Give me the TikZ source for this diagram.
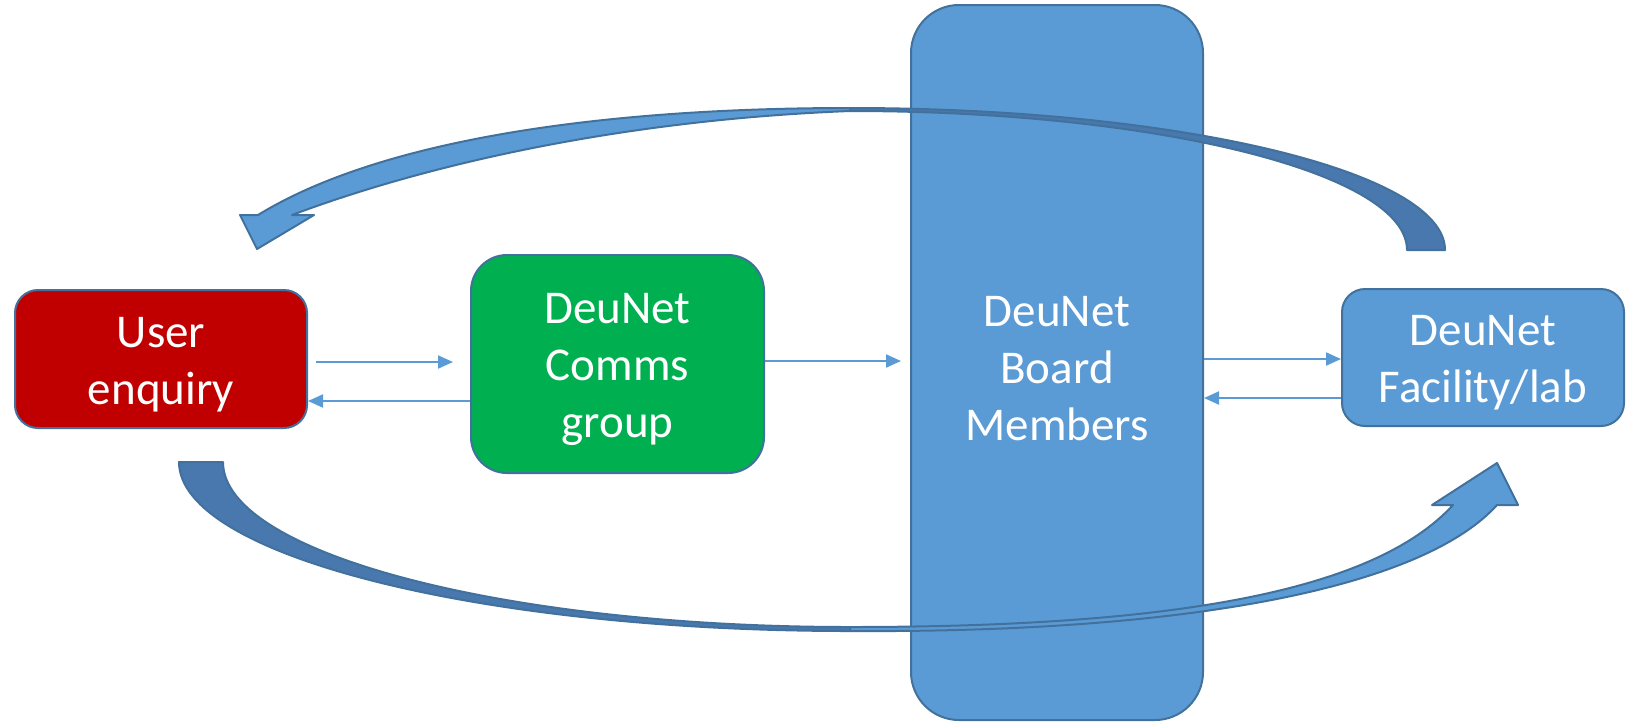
\documentclass[tikz,border=0pt]{standalone}
\usepackage{fontspec}
\setmainfont{Carlito}
\usetikzlibrary{arrows.meta,calc}
\definecolor{boxblue}{HTML}{5B9BD5}
\definecolor{edgeblue}{HTML}{41719C}
\definecolor{darkband}{HTML}{4878AD}
\definecolor{userred}{HTML}{C00000}
\definecolor{commsgreen}{HTML}{00B050}

\begin{document}
\begin{tikzpicture}[x=0.5pt,y=-0.5pt,
                    box/.style={rectangle,draw=edgeblue,line width=1pt,inner sep=0pt},
                    boxtext/.style={text=white,align=center,yshift=-2.8pt,
                                    font=\fontsize{23.5}{28.5}\selectfont},
                    flow/.style={draw=boxblue,line width=1pt,-{Triangle[length=7.5pt,width=6.5pt]}},
                    band/.style={fill=boxblue,draw=edgeblue,line width=1pt,line join=round},
                    backband/.style={fill=darkband,draw=edgeblue,line width=1pt,line join=round}]

  \useasboundingbox (0,0) rectangle (1626,725);

  \node[box,fill=userred,rounded corners=11.5pt,minimum width=146pt,minimum height=69pt,
        label={[boxtext]center:User\\enquiry}] (user) at (161,359) {};
  \node[box,fill=commsgreen,rounded corners=18pt,minimum width=146.5pt,minimum height=109pt,
        label={[boxtext]center:DeuNet\\Comms\\group}] (comms) at (617.5,364) {};
  \node[box,fill=boxblue,rounded corners=24pt,minimum width=146pt,minimum height=357.5pt,
        label={[boxtext]center:DeuNet\\Board\\Members}] (board) at (1057,362.5) {};
  \node[box,fill=boxblue,rounded corners=11.5pt,minimum width=141pt,minimum height=68.5pt,
        label={[boxtext]center:DeuNet\\Facility/lab}] (lab) at (1483,357.5) {};

  % straight links
  \draw[flow] ($(user.east)+(8,3)$) -- ($(comms.west)+(-17,-2)$);
  \draw[flow] ($(comms.west)+(0,37)$) -- ($(user.east)+(0,42)$);
  \draw[flow] ($(comms.east)+(0,-3)$) -- ($(board.west)+(-9,-1.5)$);
  \draw[flow] ($(board.east)+(0,-3.5)$) -- ($(lab.west)+(0,1.5)$);
  \draw[flow] ($(lab.west)+(0,40.5)$) -- ($(board.east)+(0,35.5)$);

  % big curved arrows, top one back to the user
  \path[backband] (1445,250) .. controls (1445,171.6) and (1178.6,108) .. (850,108)
        -- (850,111) .. controls (1157.6,111) and (1407,173.2) .. (1407,250) -- cycle;
  \path[band] (850,108) .. controls (600,108) and (380,140) .. (258,215)
        -- (240,215) -- (257,249) -- (314,215) -- (292,215)
        .. controls (425,165) and (620,120) .. (850,111) -- cycle;

  % bottom one on to the lab
  \path[backband] (179,462) .. controls (179,555.3) and (479.4,631) .. (850,631)
        -- (850,627) .. controls (503.7,627) and (223,553.1) .. (223,462) -- cycle;
  \path[band] (850,627) .. controls (1180,627) and (1375,590) .. (1453,505)
        -- (1432,505) -- (1497,463) -- (1518,505) -- (1497,505)
        .. controls (1420,590) and (1180,633) .. (850,631) -- cycle;
\end{tikzpicture}
\end{document}
